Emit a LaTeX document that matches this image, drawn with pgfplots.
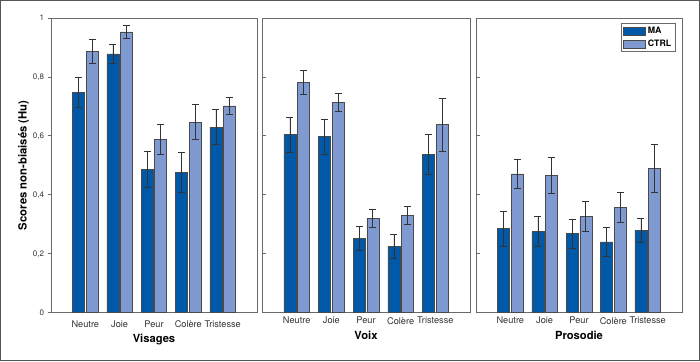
\documentclass[border=0pt]{standalone}
\usepackage{fontspec}
\setmainfont{TeX Gyre Heros}
\usepackage{pgfplots}
\pgfplotsset{compat=1.18}
\definecolor{ma}{HTML}{0058A8}
\definecolor{ctrl}{HTML}{7F9AD0}
\definecolor{edge}{HTML}{4A4A4A}
\definecolor{axc}{HTML}{6A6A6A}
\definecolor{txt}{HTML}{333333}
\definecolor{frame}{HTML}{555555}
\pgfplotsset{
 panel/.style={
  scale only axis, height=294.7pt, anchor=south west,
  ybar=1.6pt, bar width=12pt,
  ymin=0, ymax=1, xmin=-1, xmax=5,
  xtick={0,1,2,3,4}, xticklabels={Neutre,Joie,Peur,Colère,Tristesse},
  x tick style={draw=none},
  ytick={0,0.2,0.4,0.6,0.8,1},
  axis line style={axc, line width=0.8pt},
  tick style={axc, line width=0.8pt},
  ytick pos=left,
  major tick length=3.5pt,
  x tick label style={font=\fontsize{9.2}{10}\selectfont, text=txt, yshift=-1pt},
  y tick label style={font=\fontsize{8}{10}\selectfont, text=txt},
  xlabel style={font=\bfseries\fontsize{11.2}{13}\selectfont, text=black, yshift=0pt},
  clip=false,
 },
 ma/.style={fill=ma, draw=edge, line width=0.6pt,
   error bars/.cd, y dir=both, y explicit,
   error bar style={color=txt, line width=0.7pt},
   error mark options={color=txt, line width=0.7pt, mark size=3.6pt, rotate=90}},
 ctrl/.style={fill=ctrl, draw=edge, line width=0.6pt,
   error bars/.cd, y dir=both, y explicit,
   error bar style={color=txt, line width=0.7pt},
   error mark options={color=txt, line width=0.7pt, mark size=3.6pt, rotate=90}},
}
\begin{document}
\begin{tikzpicture}
\useasboundingbox (0pt,0pt) rectangle (700pt,361pt);
\draw[frame, line width=1.3pt] (0.65pt,0.65pt) rectangle (699.35pt,360.35pt);

% Panel 1: Visages
\begin{axis}[panel, at={(51pt,48.3pt)}, width=206pt,
  tick align=outside,
  yticklabels={0,{0,2},{0,4},{0,6},{0,8},1},
  xlabel={Visages},
  ylabel={Scores non-biaisés (Hu)},
  ylabel style={font=\bfseries\fontsize{11.3}{13}\selectfont, text=black, yshift=-3pt}]
\addplot+[ma] coordinates {(0,0.748) +- (0,0.050) (1,0.878) +- (0,0.031) (2,0.487) +- (0,0.061) (3,0.476) +- (0,0.069) (4,0.630) +- (0,0.060)};
\addplot+[ctrl] coordinates {(0,0.887) +- (0,0.040) (1,0.953) +- (0,0.021) (2,0.588) +- (0,0.050) (3,0.647) +- (0,0.060) (4,0.702) +- (0,0.030)};
\end{axis}

% Panel 2: Voix
\begin{axis}[panel, at={(262pt,48.3pt)}, width=208pt,
  tick align=inside,
  yticklabels={},
  xlabel={Voix}]
\addplot+[ma] coordinates {(0,0.604) +- (0,0.060) (1,0.597) +- (0,0.060) (2,0.253) +- (0,0.040) (3,0.225) +- (0,0.040) (4,0.537) +- (0,0.069)};
\addplot+[ctrl] coordinates {(0,0.782) +- (0,0.040) (1,0.713) +- (0,0.030) (2,0.320) +- (0,0.032) (3,0.331) +- (0,0.031) (4,0.638) +- (0,0.090)};
\end{axis}

% Panel 3: Prosodie
\begin{axis}[panel, at={(476pt,48.3pt)}, width=206pt,
  tick align=inside,
  yticklabels={},
  xlabel={Prosodie},
  legend style={at={(1,1)}, anchor=north east, xshift=-6.3pt, yshift=-5.3pt,
    draw=axc, line width=0.8pt, font=\bfseries\fontsize{8.8}{10}\selectfont,
    inner xsep=2pt, inner ysep=1.5pt, row sep=1pt,
    legend cell align=left},
  legend image code/.code={\draw[#1, draw=edge, line width=0.6pt] (0pt,-3.7pt) rectangle (22pt,3.7pt);}]
\addplot+[ma] coordinates {(0,0.285) +- (0,0.060) (1,0.275) +- (0,0.051) (2,0.268) +- (0,0.050) (3,0.240) +- (0,0.049) (4,0.280) +- (0,0.040)};
\addplot+[ctrl] coordinates {(0,0.471) +- (0,0.050) (1,0.466) +- (0,0.061) (2,0.327) +- (0,0.050) (3,0.358) +- (0,0.050) (4,0.490) +- (0,0.080)};
\legend{MA, CTRL}
\end{axis}
\end{tikzpicture}
\end{document}
